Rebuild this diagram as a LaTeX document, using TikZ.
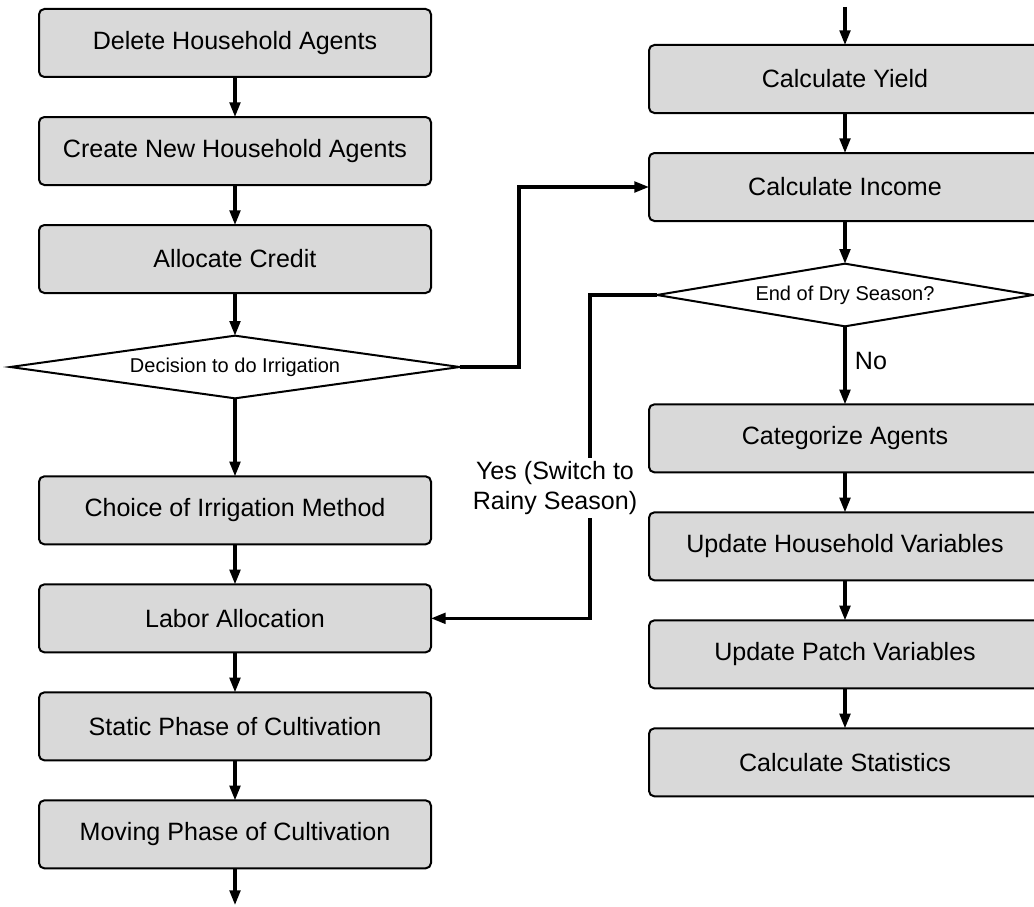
\documentclass[tikz,border=0pt]{standalone}
\usepackage{fontspec}
\setmainfont{Liberation Sans}
\usepackage{tikz}
\usetikzlibrary{positioning,arrows.meta,shapes.geometric}
\definecolor{grisclaro}{RGB}{217,217,217}
\tikzset{caja/.style={draw,rounded corners=4pt,fill=grisclaro,line width=1.5pt,outer sep=0pt,minimum width=294pt,minimum height=51pt,font=\fontsize{18.8}{22}\selectfont}}
\tikzset{rombo/.style={draw,diamond,aspect=7,inner sep=0pt,outer sep=0pt,fill=white,line width=1.5pt,minimum height=47pt,font=\fontsize{15}{18}\selectfont}}
\tikzset{flecha/.style={line width=2.3pt,-{Triangle[length=11pt,width=8pt]}}}
\tikzset{etiqueta/.style={fill=white,align=center,inner sep=2pt,font=\fontsize{18.8}{23}\selectfont}}

\begin{document}
\begin{tikzpicture}[x=0.75pt,y=-0.75pt]
            \useasboundingbox (0,0) rectangle (1034,906);
            \clip (0,0) rectangle (1034,906);

            % columna izquierda
            \node[caja] (borrar) at (235,43) {Delete Household Agents};
            \node[caja, below=30pt of borrar] (crear) {Create New Household Agents};
            \node[caja, below=30pt of crear] (credito) {Allocate Credit};
            \node[rombo, minimum width=337pt, below=32pt of credito] (decision) {Decision to do Irrigation};
            \node[caja, below=58.5pt of decision] (metodo) {Choice of Irrigation Method};
            \node[caja, below=30pt of metodo] (trabajo) {Labor Allocation};
            \node[caja, below=30pt of trabajo] (estatica) {Static Phase of Cultivation};
            \node[caja, below=30pt of estatica] (movil) {Moving Phase of Cultivation};
            \coordinate (salida) at (235,905);

            % columna derecha
            \coordinate (entrada) at (845,7);
            \node[caja] (rend) at (845,79) {Calculate Yield};
            \node[caja, below=30pt of rend] (ingreso) {Calculate Income};
            \node[rombo, minimum width=282pt, below=32pt of ingreso] (fin) {End of Dry Season?};
            \node[caja, below=58.5pt of fin] (categ) {Categorize Agents};
            \node[caja, below=30pt of categ] (hogar) {Update Household Variables};
            \node[caja, below=30pt of hogar] (parcela) {Update Patch Variables};
            \node[caja, below=30pt of parcela] (estad) {Calculate Statistics};

            \coordinate (codo1) at (519,0);
            \coordinate (codo2) at (590,0);

            \draw[flecha] (borrar) to (crear);
            \draw[flecha] (crear) to (credito);
            \draw[flecha] (credito) to (decision);
            \draw[flecha] (decision) to (metodo);
            \draw[flecha] (metodo) to (trabajo);
            \draw[flecha] (trabajo) to (estatica);
            \draw[flecha] (estatica) to (movil);
            \draw[flecha] (movil) to (salida);

            \draw[flecha] (entrada) to (rend);
            \draw[flecha] (rend) to (ingreso);
            \draw[flecha] (ingreso) to (fin);
            \draw[flecha] (fin) to node[right=3pt, yshift=3pt, font=\fontsize{18.8}{22}\selectfont] (no) {No} (categ);
            \draw[flecha] (categ) to (hogar);
            \draw[flecha] (hogar) to (parcela);
            \draw[flecha] (parcela) to (estad);

            \draw[flecha] (decision.east) -- (codo1 |- decision.east) -- (codo1 |- ingreso.west) -- (ingreso.west);
            \draw[flecha] (fin.west) -- (codo2 |- fin.west) -- (codo2 |- trabajo.east) -- (trabajo.east);
            \node[etiqueta] (si) at (555,488) {Yes (Switch to\\Rainy Season)};
        \end{tikzpicture}
\end{document}
